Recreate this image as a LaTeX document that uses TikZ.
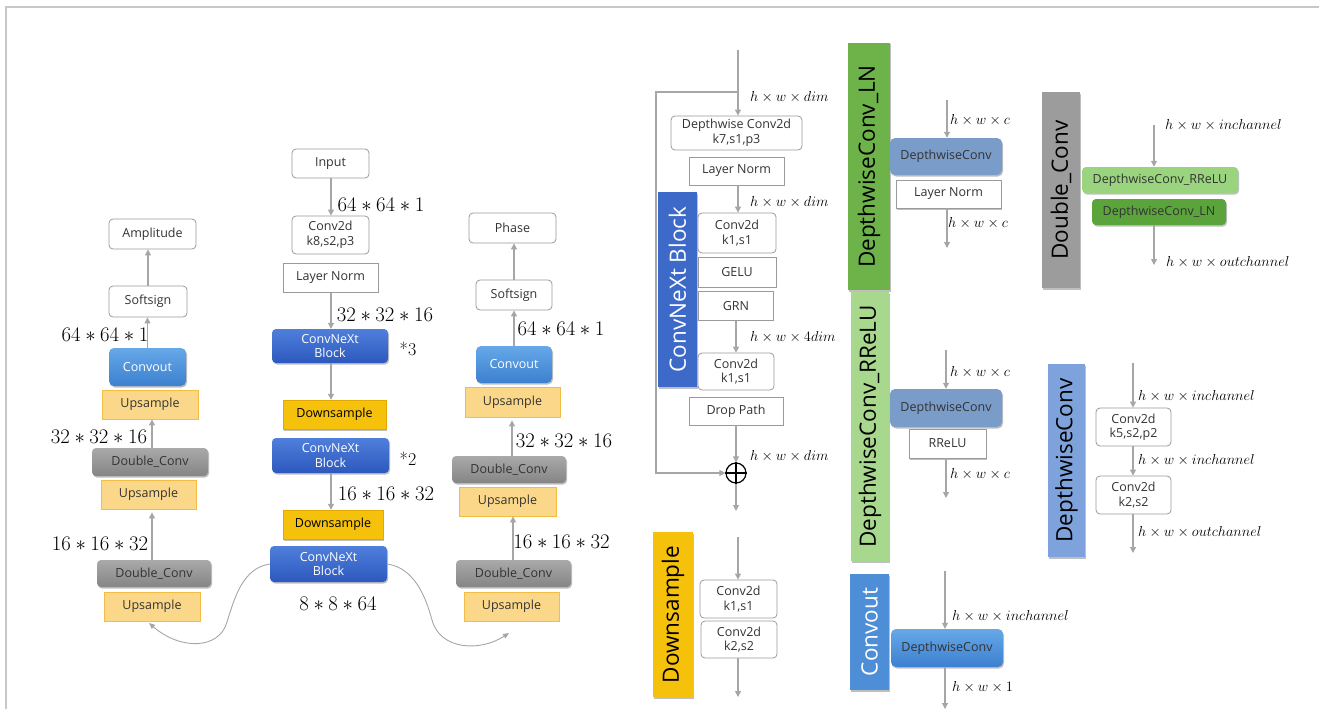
\documentclass[tikz,border=0pt]{standalone}
\usepackage{fontspec}
\setsansfont{Open Sans}
\usetikzlibrary{arrows.meta,shadows}
\definecolor{arrgray}{HTML}{A6A6A6}
\definecolor{boxline}{HTML}{9A9A9A}
\definecolor{txtgray}{HTML}{333333}
\definecolor{upfill}{HTML}{FBD889}
\definecolor{upline}{HTML}{F2BC45}
\definecolor{dnfill}{HTML}{F5C10A}
\definecolor{dnline}{HTML}{E3A900}
\definecolor{cntop}{HTML}{4F7FDB}
\definecolor{cnbot}{HTML}{2D58BE}
\definecolor{cotop}{HTML}{66A8E8}
\definecolor{cobot}{HTML}{3C80CF}
\definecolor{dctop}{HTML}{A9A9A9}
\definecolor{dcbot}{HTML}{858585}
\definecolor{steel}{HTML}{7A9CC9}
\definecolor{lgreen}{HTML}{9AD47E}
\definecolor{dgreen}{HTML}{5AA43B}
\definecolor{barLN}{HTML}{6DB34A}
\definecolor{barRR}{HTML}{A8D78E}
\definecolor{barDW}{HTML}{7EA2DC}
\definecolor{barCO}{HTML}{4E8ED6}
\definecolor{barCN}{HTML}{3D69C8}
\definecolor{barDC}{HTML}{9C9C9C}
\definecolor{frame}{HTML}{C8C8C8}
\tikzset{
  sz/.style 2 args={minimum width=#1pt,minimum height=#2pt},
  base/.style={inner sep=0pt,align=center,font=\sffamily\fontsize{12.5}{14.5}\selectfont,text=txtgray},
  shd/.style={drop shadow={shadow xshift=1pt,shadow yshift=-1.5pt,opacity=0.25,fill=black}},
  wbox/.style={base,draw=boxline,fill=white,rounded corners=4pt,line width=0.8pt},
  sqbox/.style={base,draw=boxline,fill=white,line width=0.8pt},
  upbox/.style={base,draw=upline,fill=upfill,line width=0.8pt},
  dnbox/.style={base,draw=dnline,fill=dnfill,text=black,shd},
  cnbox/.style={base,rounded corners=4pt,top color=cntop,bottom color=cnbot,text=white,shd},
  cobox/.style={base,rounded corners=5pt,top color=cotop,bottom color=cobot,text=white,shd},
  dcbox/.style={base,rounded corners=4pt,top color=dctop,bottom color=dcbot,text=txtgray,shd},
  sbbox/.style={base,rounded corners=5pt,fill=steel,text=txtgray,shd},
  lgbox/.style={base,rounded corners=4pt,fill=lgreen,text=txtgray,shd},
  dgbox/.style={base,rounded corners=4pt,fill=dgreen,text=txtgray,shd},
  vbar/.style={inner sep=0pt,rotate=90,font=\sffamily\fontsize{22.5}{24}\selectfont,text=black,shd},
  arr/.style={draw=arrgray,line width=1.1pt,-{Triangle[length=6pt,width=6pt]}},
  carr/.style={draw=arrgray,line width=0.9pt,-{Triangle[length=6pt,width=5pt]}},
  dimlab/.style={inner sep=0pt,font=\fontsize{20}{22}\selectfont},
  hwlab/.style={inner sep=0pt,anchor=west,font=\fontsize{14.5}{16}\selectfont},
  mult/.style={inner sep=0pt,font=\rmfamily\fontsize{18}{20}\selectfont}
}
\begin{document}
\begin{tikzpicture}[x=1pt,y=-1pt]
\useasboundingbox (0,0) rectangle (1319,709);
\draw[frame,line width=1.5pt] (6,709) -- (6,7) -- (1319,7);

% ---------- left column ----------
\node[wbox,sz={87}{30}] (amp) at (152.5,234) {Amplitude};
\node[wbox,sz={78}{31}] (ssL) at (148,301.5) {Softsign};
\node[cobox,sz={77}{38}] (coL) at (147.5,367) {Convout};
\node[upbox,sz={96}{29}] (upL1) at (150,404.5) {Upsample};
\node[dcbox,sz={116}{28}] (dcL1) at (150,462) {Double\_Conv};
\node[upbox,sz={95}{29}] (upL2) at (148.5,494.5) {Upsample};
\node[dcbox,sz={114}{27}] (dcL2) at (154,573.5) {Double\_Conv};
\node[upbox,sz={96}{29}] (upL3) at (152,606.5) {Upsample};
\draw[arr] (ssL.north) -- (ssL.north |- amp.south);
\draw[arr] (coL.north) -- (coL.north |- ssL.south);
\draw[arr] (dcL1.north -| 152,0) -- (upL1.south -| 152,0);
\draw[arr] (dcL2.north -| 152,0) -- ([yshift=-3pt]upL2.south -| 152,0);
\node[dimlab] (lL1) at (105,335) {$64*64*1$};
\node[dimlab] (lL2) at (99,437) {$32*32*16$};
\node[dimlab] (lL3) at (100,544) {$16*16*32$};

% ---------- middle column ----------
\node[wbox,sz={77}{29}] (inp) at (330.5,163.5) {Input};
\node[wbox,sz={77}{38}] (c2d) at (330.5,235) {Conv2d\\k8,s2,p3};
\node[sqbox,sz={95}{29}] (lnM) at (330.5,277.5) {Layer Norm};
\node[cnbox,sz={116}{34}] (cnb1) at (330,346) {ConvNeXt\\Block};
\node[dnbox,sz={103}{29}] (ds1) at (334.5,414.5) {Downsample};
\node[cnbox,sz={117}{35}] (cnb2) at (330.5,455.5) {ConvNeXt\\Block};
\node[dnbox,sz={100}{29}] (ds2) at (333,524.5) {Downsample};
\node[cnbox,sz={117}{36}] (cnb3) at (328.5,564) {ConvNeXt\\Block};
\draw[arr] (inp.south -| 331,0) -- (c2d.north -| 331,0);
\draw[arr] (lnM.south -| 331,0) -- (cnb1.north -| 331,0);
\draw[arr] (cnb1.south -| 331,0) -- (ds1.north -| 331,0);
\draw[arr] (cnb2.south -| 331,0) -- (ds2.north -| 331,0);
\node[dimlab] (lM1) at (381,205) {$64*64*1$};
\node[dimlab] (lM2) at (385,315) {$32*32*16$};
\node[mult] (x3) at (408,349) {*3};
\node[mult] (x2) at (408,459) {*2};
\node[dimlab] (lM3) at (386,494) {$16*16*32$};
\node[dimlab] (lM4) at (338,604) {$8*8*64$};

% ---------- right column ----------
\node[wbox,sz={87}{30}] (pha) at (512.5,228) {Phase};
\node[wbox,sz={76}{30}] (ssR) at (514,295) {Softsign};
\node[cobox,sz={76}{37}] (coR) at (514,364.5) {Convout};
\node[upbox,sz={95}{30}] (upR1) at (512.5,402) {Upsample};
\node[dcbox,sz={114}{27}] (dcR1) at (509,469.5) {Double\_Conv};
\node[upbox,sz={97}{29}] (upR2) at (507.5,501.5) {Upsample};
\node[dcbox,sz={115}{27}] (dcR2) at (513.5,573.5) {Double\_Conv};
\node[upbox,sz={95}{29}] (upR3) at (511.5,606.5) {Upsample};
\draw[arr] (ssR.north) -- (ssR.north |- pha.south);
\draw[arr] (coR.north) -- (coR.north |- ssR.south);
\draw[arr] (dcR1.north -| 512,0) -- ([yshift=-3pt]upR1.south -| 512,0);
\draw[arr] (dcR2.north -| 513,0) -- (upR2.south -| 513,0);
\node[dimlab] (lR1) at (561,329) {$64*64*1$};
\node[dimlab] (lR2) at (564,441) {$32*32*16$};
\node[dimlab] (lR3) at (561.5,541.5) {$16*16*32$};

% ---------- skip curves ----------
\coordinate (tipL) at (149,623);
\coordinate (tipR) at (509,633);
\draw[carr] (cnb3.west) .. controls (242,568) and (234,600) .. (227,622)
  .. controls (219,650) and (180,650) .. (tipL);
\draw[carr] (cnb3.east) .. controls (415,568) and (426,598) .. (432,620)
  .. controls (440,650) and (480,652) .. (tipR);

% ---------- ConvNeXt block detail ----------
\node[vbar,fill=barCN,text=white,sz={195}{39}] (cnbar) at (677.5,289.5) {ConvNeXt Block};
\node[wbox,sz={131}{34}] (dwc) at (736.5,133) {Depthwise Conv2d\\k7,s1,p3};
\node[sqbox,sz={95}{28}] (lnC) at (736.5,171) {Layer Norm};
\node[wbox,sz={78}{40}] (c1) at (737,233) {Conv2d\\k1,s1};
\node[sqbox,sz={78}{30}] (gelu) at (737,272) {GELU};
\node[sqbox,sz={75}{29}] (grn) at (736,306) {GRN};
\node[wbox,sz={76}{37}] (c2) at (736,371.5) {Conv2d\\k1,s1};
\node[sqbox,sz={94}{28}] (dp) at (736,411) {Drop Path};
\node[circle,draw=black,line width=1.2pt,minimum size=20pt,inner sep=0pt] (op) at (736,473) {};
\draw[line width=1.2pt] (op.north) -- (op.south) (op.west) -- (op.east);
\coordinate (cnin) at (738,50);
\coordinate (skp) at (738,92);
\coordinate (cnout) at (736,511);
\draw[arr] (cnin) -- (dwc.north -| cnin);
\draw[arr] (skp) -- (656,92) -- (656,473) -- (op.west);
\draw[arr] (lnC.south -| 738,0) -- (c1.north -| 738,0);
\draw[arr] (grn.south) -- (c2.north);
\draw[arr] (dp.south) -- (op.north);
\draw[arr] (op.south) -- (cnout);
\node[hwlab] (h1) at (750,97) {$h\times w\times dim$};
\node[hwlab] (h2) at (750,202) {$h\times w\times dim$};
\node[hwlab] (h3) at (750,337) {$h\times w\times 4dim$};
\node[hwlab] (h4) at (750,456) {$h\times w\times dim$};

% ---------- Downsample detail ----------
\node[vbar,fill=dnfill,sz={165}{40}] (dnbar) at (673,614.5) {Downsample};
\node[wbox,sz={77}{38}] (dsc1) at (738.5,599) {Conv2d\\k1,s1};
\node[wbox,sz={76}{37}] (dsc2) at (739,639.5) {Conv2d\\k2,s2};
\coordinate (dsin) at (738,537);
\coordinate (dsout) at (738,697);
\draw[arr] (dsin) -- (dsc1.north -| dsin);
\draw[arr] (dsc2.south -| dsout) -- (dsout);

% ---------- DepthwiseConv_LN ----------
\node[vbar,fill=barLN,sz={247}{42}] (lnbar) at (869,166.5) {DepthwiseConv\_LN};
\node[sbbox,sz={112}{37}] (dw1) at (946,156.5) {DepthwiseConv};
\node[sqbox,sz={105}{28},shd] (lnD) at (948.5,194) {Layer Norm};
\coordinate (lnin) at (947,100);
\coordinate (lnout) at (947,248);
\draw[arr] (lnin) -- (dw1.north -| lnin);
\draw[arr] (lnD.south -| lnout) -- (lnout);
\node[hwlab] (h5) at (950,120) {$h\times w\times c$};
\node[hwlab] (h6) at (948,223) {$h\times w\times c$};

% ---------- Double_Conv ----------
\node[vbar,fill=barDC,sz={196}{38}] (dcbar) at (1061,190) {Double\_Conv};
\node[lgbox,sz={156}{26}] (dcr) at (1160,180) {DepthwiseConv\_RReLU};
\node[dgbox,sz={134}{26}] (dcln) at (1159,212) {DepthwiseConv\_LN};
\coordinate (dcin) at (1154,125);
\coordinate (dcout) at (1154,265);
\draw[arr] (dcin) -- (dcr.north -| dcin);
\draw[arr] (dcln.south -| dcout) -- (dcout);
\node[hwlab] (h7) at (1165,125) {$h\times w\times inchannel$};
\node[hwlab] (h8) at (1166,262) {$h\times w\times outchannel$};

% ---------- DepthwiseConv_RReLU ----------
\node[vbar,fill=barRR,sz={269}{38}] (rrbar) at (870,426.5) {DepthwiseConv\_RReLU};
\node[sbbox,sz={112}{38}] (dw2) at (946,408) {DepthwiseConv};
\node[sqbox,sz={77}{29},shd] (rr) at (947.5,443.5) {RReLU};
\coordinate (rrin) at (946,350);
\coordinate (rrout) at (946,498);
\draw[arr] (rrin) -- (dw2.north -| rrin);
\draw[arr] (rr.south -| rrout) -- (rrout);
\node[hwlab] (h9) at (950,372) {$h\times w\times c$};
\node[hwlab] (h10) at (950,474) {$h\times w\times c$};

% ---------- DepthwiseConv ----------
\node[vbar,fill=barDW,sz={193}{37}] (dwbar) at (1066.5,460.5) {DepthwiseConv};
\node[wbox,sz={75}{38}] (k5) at (1133.5,427) {Conv2d\\k5,s2,p2};
\node[wbox,sz={75}{38}] (k2) at (1133.5,495) {Conv2d\\k2,s2};
\coordinate (dwin) at (1133,363);
\coordinate (dwout) at (1133,553);
\draw[arr] (dwin) -- (k5.north -| dwin);
\draw[arr] (k5.south -| dwin) -- (k2.north -| dwin);
\draw[arr] (k2.south -| dwout) -- (dwout);
\node[hwlab] (h11) at (1138,396) {$h\times w\times inchannel$};
\node[hwlab] (h12) at (1138,460) {$h\times w\times inchannel$};
\node[hwlab] (h13) at (1138,532) {$h\times w\times outchannel$};

% ---------- Convout ----------
\node[vbar,fill=barCO,text=white,sz={116}{39}] (cobar) at (869.5,632) {Convout};
\node[cobox,sz={112}{38},text=txtgray] (dw3) at (947,648) {DepthwiseConv};
\coordinate (coin) at (945,571);
\coordinate (coout) at (945,709);
\draw[arr] (coin) -- (dw3.north -| coin);
\draw[arr] (dw3.south -| coout) -- (coout);
\node[hwlab] (h14) at (952,616) {$h\times w\times inchannel$};
\node[hwlab] (h15) at (952,687) {$h\times w\times 1$};
\end{tikzpicture}
\end{document}
